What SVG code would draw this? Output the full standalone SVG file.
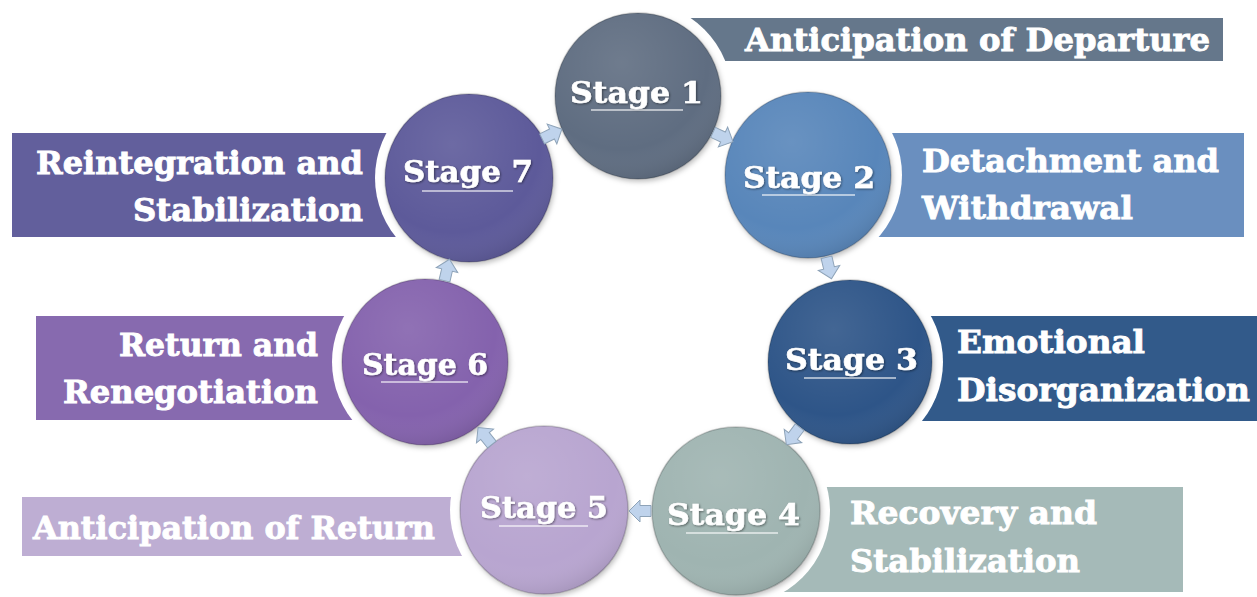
<svg xmlns="http://www.w3.org/2000/svg" width="1257" height="597" viewBox="0 0 1257 597">
  <style>
    .lbl { font-family: "DejaVu Serif", "Liberation Serif", serif; font-weight: bold; font-size: 32px; fill: #ffffff; stroke: #ffffff; stroke-width: 0.9; }
    .stg { font-family: "DejaVu Serif", "Liberation Serif", serif; font-weight: bold; font-size: 30px; fill: #ffffff; stroke: #ffffff; stroke-width: 0.6; filter: url(#tshadow); }
    .halo { fill: #ffffff; }
    .ring { stroke: rgba(0,0,0,0.18); stroke-width: 1.5; filter: url(#cshadow); }
    .gloss { fill: url(#gloss); }
    .ul { stroke: rgba(255,255,255,0.75); stroke-width: 1.5; }
    .arr { fill: #bfd3ec; stroke: #8ea3b8; stroke-width: 1; }
  </style>
  <defs>
    <radialGradient id="gloss" cx="0.4" cy="0.3" r="0.75">
      <stop offset="0" stop-color="#ffffff" stop-opacity="0.1"/>
      <stop offset="0.7" stop-color="#ffffff" stop-opacity="0"/>
      <stop offset="1" stop-color="#000000" stop-opacity="0.12"/>
    </radialGradient>
    <filter id="cshadow" x="-20%" y="-20%" width="140%" height="140%">
      <feDropShadow dx="1.5" dy="2.5" stdDeviation="2.5" flood-color="#000000" flood-opacity="0.25"/>
    </filter>
    <filter id="tshadow" x="-10%" y="-30%" width="120%" height="160%">
      <feDropShadow dx="1" dy="1" stdDeviation="0.8" flood-color="#000000" flood-opacity="0.45"/>
    </filter>
    <path id="arrow" d="M-11,-5.5 H0 V-11 L11,0 L0,11 V5.5 H-11 Z"/>
  </defs>

  <rect width="1257" height="597" fill="#ffffff"/>

  <g id="stage1">
    <rect x="650" y="18" width="573" height="43" fill="#65778b"/>
    <text class="lbl" x="745" y="51" textLength="465" lengthAdjust="spacingAndGlyphs">Anticipation of Departure</text>
    <circle class="halo" cx="638" cy="96" r="94"/>
    <circle class="ring" cx="638" cy="96" r="83" fill="#5e6d81"/>
    <circle class="gloss" cx="638" cy="96" r="83"/>
    <text class="stg" x="570" y="103" textLength="133" lengthAdjust="spacingAndGlyphs">Stage 1</text>
    <line class="ul" x1="591" y1="110" x2="683" y2="110"/>
  </g>

  <g id="stage2">
    <rect x="790" y="133" width="454" height="104" fill="#6a8fbf"/>
    <text class="lbl" x="922" y="172" textLength="297" lengthAdjust="spacingAndGlyphs">Detachment and</text>
    <text class="lbl" x="922" y="219" textLength="211" lengthAdjust="spacingAndGlyphs">Withdrawal</text>
    <circle class="halo" cx="808" cy="175" r="94"/>
    <circle class="ring" cx="808" cy="175" r="83" fill="#5986ba"/>
    <circle class="gloss" cx="808" cy="175" r="83"/>
    <text class="stg" x="743" y="188" textLength="132" lengthAdjust="spacingAndGlyphs">Stage 2</text>
    <line class="ul" x1="762" y1="195" x2="855" y2="195"/>
  </g>

  <g id="stage3">
    <rect x="840" y="316" width="417" height="105" fill="#325a8a"/>
    <text class="lbl" x="957" y="353" textLength="188" lengthAdjust="spacingAndGlyphs">Emotional</text>
    <text class="lbl" x="957" y="401" textLength="293" lengthAdjust="spacingAndGlyphs">Disorganization</text>
    <circle class="halo" cx="850" cy="362" r="93"/>
    <circle class="ring" cx="850" cy="362" r="82" fill="#2d5588"/>
    <circle class="gloss" cx="850" cy="362" r="82"/>
    <text class="stg" x="785" y="370" textLength="133" lengthAdjust="spacingAndGlyphs">Stage 3</text>
    <line class="ul" x1="804" y1="378" x2="896" y2="378"/>
  </g>

  <g id="stage4">
    <rect x="740" y="487" width="443" height="105" fill="#a5bab8"/>
    <text class="lbl" x="850" y="524" textLength="247" lengthAdjust="spacingAndGlyphs">Recovery and</text>
    <text class="lbl" x="850" y="572" textLength="230" lengthAdjust="spacingAndGlyphs">Stabilization</text>
    <circle class="halo" cx="736" cy="511" r="94"/>
    <circle class="ring" cx="736" cy="511" r="84" fill="#9fb4b1"/>
    <circle class="gloss" cx="736" cy="511" r="84"/>
    <text class="stg" x="667" y="525" textLength="133" lengthAdjust="spacingAndGlyphs">Stage 4</text>
    <line class="ul" x1="686" y1="533" x2="778" y2="533"/>
  </g>

  <g id="stage5">
    <rect x="22" y="497" width="518" height="59" fill="#beaed3"/>
    <text class="lbl" x="33" y="539" textLength="402" lengthAdjust="spacingAndGlyphs">Anticipation of Return</text>
    <circle class="halo" cx="544" cy="510" r="94"/>
    <circle class="ring" cx="544" cy="510" r="84" fill="#b8a5d0"/>
    <circle class="gloss" cx="544" cy="510" r="84"/>
    <text class="stg" x="480" y="518" textLength="128" lengthAdjust="spacingAndGlyphs">Stage 5</text>
    <line class="ul" x1="499" y1="526" x2="588" y2="526"/>
  </g>

  <g id="stage6">
    <rect x="36" y="316" width="394" height="104" fill="#876aaf"/>
    <text class="lbl" x="318" y="356" text-anchor="end" textLength="199" lengthAdjust="spacingAndGlyphs">Return and</text>
    <text class="lbl" x="318" y="403" text-anchor="end" textLength="255" lengthAdjust="spacingAndGlyphs">Renegotiation</text>
    <circle class="halo" cx="425" cy="362" r="93"/>
    <circle class="ring" cx="425" cy="362" r="83" fill="#8462ad"/>
    <circle class="gloss" cx="425" cy="362" r="83"/>
    <text class="stg" x="362" y="375" textLength="126" lengthAdjust="spacingAndGlyphs">Stage 6</text>
    <line class="ul" x1="381" y1="382" x2="468" y2="382"/>
  </g>

  <g id="stage7">
    <rect x="12" y="133" width="458" height="104" fill="#625f9c"/>
    <text class="lbl" x="363" y="174" text-anchor="end" textLength="327" lengthAdjust="spacingAndGlyphs">Reintegration and</text>
    <text class="lbl" x="363" y="221" text-anchor="end" textLength="230" lengthAdjust="spacingAndGlyphs">Stabilization</text>
    <circle class="halo" cx="469" cy="178" r="94"/>
    <circle class="ring" cx="469" cy="178" r="84" fill="#5d5a9a"/>
    <circle class="gloss" cx="469" cy="178" r="84"/>
    <text class="stg" x="403" y="182" textLength="130" lengthAdjust="spacingAndGlyphs">Stage 7</text>
    <line class="ul" x1="422" y1="191" x2="513" y2="191"/>
  </g>

  <g id="connectors">
    <use href="#arrow" class="arr" transform="translate(552,134) rotate(-26)"/>
    <use href="#arrow" class="arr" transform="translate(723,137) rotate(25)"/>
    <use href="#arrow" class="arr" transform="translate(829,268) rotate(77)"/>
    <use href="#arrow" class="arr" transform="translate(793,436) rotate(127)"/>
    <use href="#arrow" class="arr" transform="translate(640,511) rotate(180)"/>
    <use href="#arrow" class="arr" transform="translate(485,436) rotate(-129)"/>
    <use href="#arrow" class="arr" transform="translate(447,270) rotate(-77)"/>
  </g>
</svg>
